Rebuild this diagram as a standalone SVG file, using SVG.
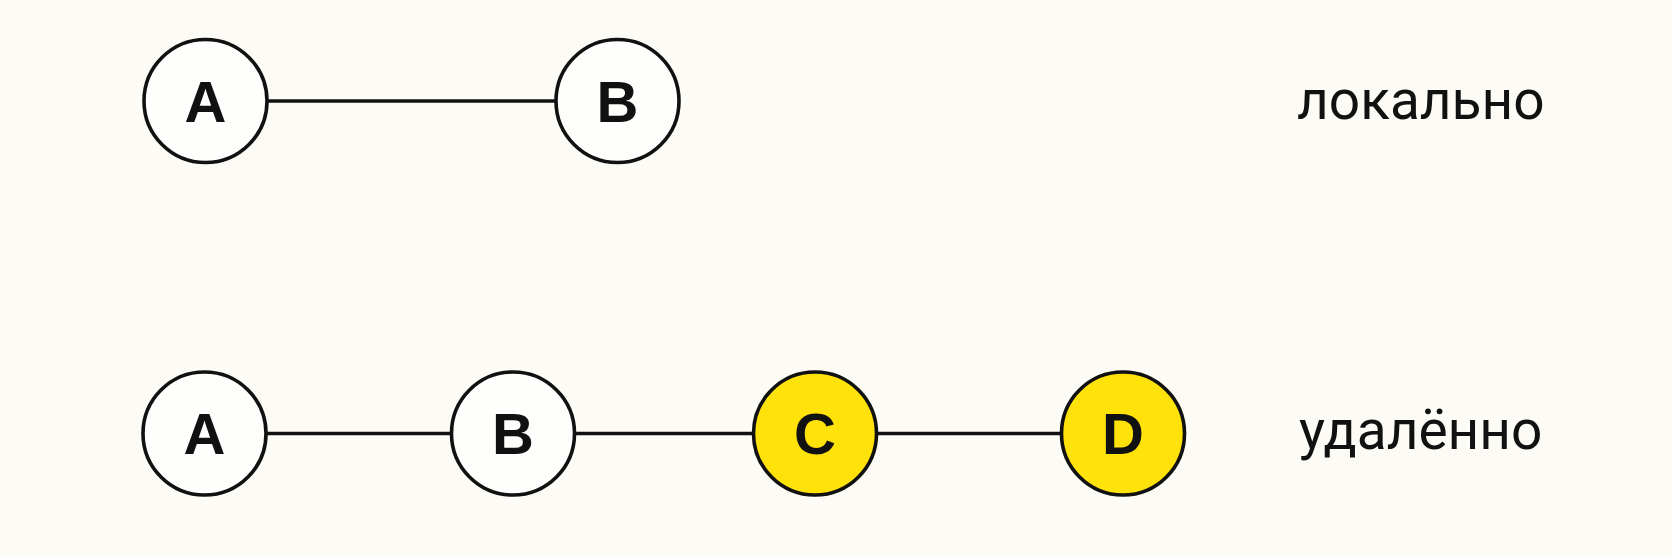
<svg xmlns="http://www.w3.org/2000/svg" width="1672" height="557" viewBox="0 0 1672 557">
<style>
.bg{fill:#FCFBF6}
.edge{stroke:#111;stroke-width:3.4;fill:none}
.node{stroke:#111;stroke-width:3.6}
.white{fill:#FEFEFC}
.yellow{fill:#FFE20A}
.lbl{font-family:"Liberation Sans",Arial,sans-serif;font-weight:700;font-size:58px;fill:#111;text-anchor:middle}
.side{font-family:Roboto,"Liberation Sans",sans-serif;font-weight:400;font-size:55px;fill:#111}
</style>
<rect class="bg" width="1672" height="557"/>
<g id="connectors">
<line class="edge" x1="267" y1="101" x2="556" y2="101"/>
<line class="edge" x1="266" y1="433.5" x2="451" y2="433.5"/>
<line class="edge" x1="575" y1="433.5" x2="753" y2="433.5"/>
<line class="edge" x1="877" y1="433.5" x2="1061" y2="433.5"/>
</g>
<g id="local-A"><circle class="node white" cx="205.5" cy="101" r="61.5"/><text class="lbl" x="205.5" y="121.5">A</text></g>
<g id="local-B"><circle class="node white" cx="617.5" cy="101" r="61.5"/><text class="lbl" x="617.5" y="121.5">B</text></g>
<g id="remote-A"><circle class="node white" cx="204.5" cy="433.5" r="61.5"/><text class="lbl" x="204.5" y="454">A</text></g>
<g id="remote-B"><circle class="node white" cx="513" cy="433.5" r="61.5"/><text class="lbl" x="513" y="454">B</text></g>
<g id="remote-C"><circle class="node yellow" cx="815" cy="433.5" r="61.5"/><text class="lbl" x="815" y="454">C</text></g>
<g id="remote-D"><circle class="node yellow" cx="1123" cy="433.5" r="61.5"/><text class="lbl" x="1123" y="454">D</text></g>
<g id="label-local"><text class="side" x="1297" y="119">локально</text></g>
<g id="label-remote"><text class="side" x="1299" y="449">удалённо</text></g>
</svg>
